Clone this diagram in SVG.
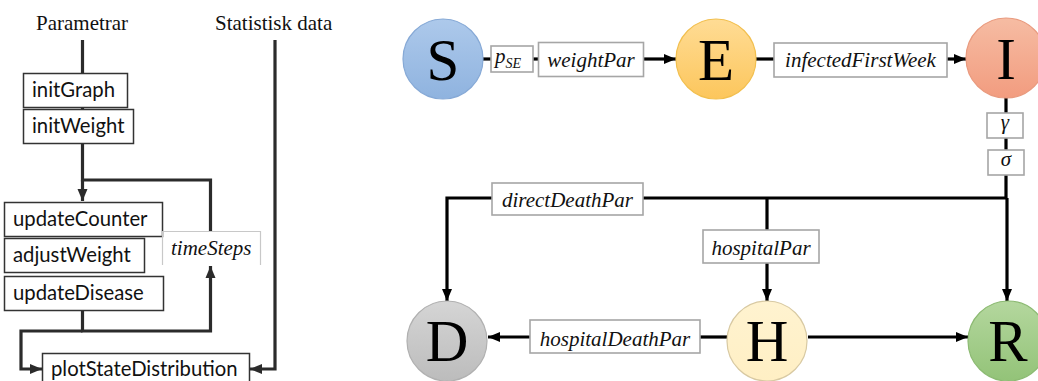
<svg xmlns="http://www.w3.org/2000/svg" width="1038" height="381" viewBox="0 0 1038 381">
<style>
.ln{fill:none;stroke:#2b2b2b;stroke-width:3.2}
.lk{fill:none;stroke:#000;stroke-width:3.2}
.fb{fill:#fff;stroke:#333;stroke-width:1.5}
.pb{fill:#fff;stroke:#a6a6a6;stroke-width:1.6}
.ft{font-family:Lato,"Open Sans",sans-serif;font-size:20.3px;fill:#111}
.st{font-family:"Liberation Serif",serif;font-size:21px;fill:#111}
.it{font-family:"Liberation Serif",serif;font-style:italic;font-size:21px;fill:#111}
.big{font-family:"Liberation Serif",serif;font-size:59px;fill:#000;text-anchor:middle}
</style>
<defs>
<marker id="ah" markerUnits="userSpaceOnUse" markerWidth="13" markerHeight="13" viewBox="0 0 13 13" refX="12" refY="6.5" orient="auto"><path d="M0,1.5 L12,6.5 L0,11.5 Z" fill="#000"/></marker>
<marker id="ahg" markerUnits="userSpaceOnUse" markerWidth="13" markerHeight="13" viewBox="0 0 13 13" refX="12" refY="6.5" orient="auto"><path d="M0,1.5 L12,6.5 L0,11.5 Z" fill="#2b2b2b"/></marker>
<linearGradient id="gS" x1="0" y1="0" x2="0" y2="1"><stop offset="0" stop-color="#adc9eb"/><stop offset="1" stop-color="#8fb3df"/></linearGradient>
<linearGradient id="gE" x1="0" y1="0" x2="0" y2="1"><stop offset="0" stop-color="#ffdc95"/><stop offset="1" stop-color="#fcc65c"/></linearGradient>
<linearGradient id="gI" x1="0" y1="0" x2="0" y2="1"><stop offset="0" stop-color="#f6bca3"/><stop offset="1" stop-color="#f29c7f"/></linearGradient>
<linearGradient id="gD" x1="0" y1="0" x2="0" y2="1"><stop offset="0" stop-color="#d5d5d5"/><stop offset="1" stop-color="#bcbcbc"/></linearGradient>
<linearGradient id="gH" x1="0" y1="0" x2="0" y2="1"><stop offset="0" stop-color="#fff3d0"/><stop offset="1" stop-color="#ffefc4"/></linearGradient>
<linearGradient id="gR" x1="0" y1="0" x2="0" y2="1"><stop offset="0" stop-color="#b4d79e"/><stop offset="1" stop-color="#93c378"/></linearGradient>
</defs>

<g id="connectors">
<path class="ln" d="M82.5,40 V73"/>
<path class="ln" d="M82.5,107 V109"/>
<path class="ln" d="M82.5,143 V180 H210.5 V231"/>
<path class="ln" d="M82.5,180 V201" marker-end="url(#ahg)"/>
<path class="ln" d="M82.5,310 V331 H210.5 V266" marker-end="url(#ahg)"/>
<path class="ln" d="M82.5,331 H21 V369 H42" marker-end="url(#ahg)"/>
<path class="ln" d="M275,40 V369 H250" marker-end="url(#ahg)"/>
<path class="lk" d="M483,59 H491"/>
<path class="lk" d="M533,59 H538"/>
<path class="lk" d="M644,59 H676" marker-end="url(#ah)"/>
<path class="lk" d="M756,59 H774"/>
<path class="lk" d="M947,59 H966" marker-end="url(#ah)"/>
<path class="lk" d="M1006,97 V198 H447 V301" marker-end="url(#ah)"/>
<path class="lk" d="M767,198 V301" marker-end="url(#ah)"/>
<path class="lk" d="M1007,198 V301" marker-end="url(#ah)"/>
<path class="lk" d="M727,337 H700"/>
<path class="lk" d="M530,337 H488" marker-end="url(#ah)"/>
<path class="lk" d="M808,337 H968" marker-end="url(#ah)"/>
</g>

<g id="label-parametrar"><text class="st" x="36" y="30">Parametrar</text></g>
<g id="label-statistisk"><text class="st" x="215" y="30">Statistisk data</text></g>

<g id="initGraph"><rect class="fb" x="23.5" y="73.5" width="104" height="34"/><text class="ft" x="32" y="96.5">initGraph</text></g>
<g id="initWeight"><rect class="fb" x="23.5" y="109.5" width="110" height="34"/><text class="ft" x="32" y="132.5">initWeight</text></g>
<g id="updateCounter"><rect class="fb" x="4.5" y="202.5" width="158" height="34"/><text class="ft" x="13" y="226">updateCounter</text></g>
<g id="adjustWeight"><rect class="fb" x="4.5" y="238.5" width="140" height="34"/><text class="ft" x="13" y="262">adjustWeight</text></g>
<g id="updateDisease"><rect class="fb" x="4.5" y="276.5" width="159" height="34"/><text class="ft" x="13" y="300">updateDisease</text></g>
<g id="timeSteps"><path d="M162.5,265 V231.5 H260.5 V265" fill="none" stroke="#c8c8c8" stroke-width="1.2"/><text class="it" x="171" y="255">timeSteps</text></g>
<g id="plotStateDistribution"><rect class="fb" x="42.5" y="353.5" width="207" height="34"/><text class="ft" x="51" y="375.5">plotStateDistribution</text></g>

<g id="S"><circle cx="443" cy="59" r="40" fill="url(#gS)" stroke="#86a9d6" stroke-width="1.2"/><text class="big" x="443" y="80">S</text></g>
<g id="E"><circle cx="716" cy="59" r="40" fill="url(#gE)" stroke="#f2bf4e" stroke-width="1.2"/><text class="big" x="716" y="80">E</text></g>
<g id="I"><circle cx="1006" cy="58" r="40" fill="url(#gI)" stroke="#e99a7e" stroke-width="1.2"/><text class="big" x="1006" y="79">I</text></g>
<g id="D"><circle cx="447" cy="341" r="40" fill="url(#gD)" stroke="#b0b0b0" stroke-width="1.2"/><text class="big" x="447" y="361">D</text></g>
<g id="H"><circle cx="767" cy="341" r="40" fill="url(#gH)" stroke="#d8c9a2" stroke-width="1.2"/><text class="big" x="767" y="361">H</text></g>
<g id="R"><circle cx="1008" cy="341" r="40" fill="url(#gR)" stroke="#8cba72" stroke-width="1.2"/><text class="big" x="1008" y="361">R</text></g>

<g id="pSE"><rect class="pb" x="491" y="46" width="42" height="26"/><text class="it" x="495" y="63" font-size="25">p<tspan font-size="14" dy="5">SE</tspan></text></g>
<g id="weightPar"><rect class="pb" x="538.5" y="42.5" width="105" height="34"/><text class="it" x="591" y="67" text-anchor="middle">weightPar</text></g>
<g id="infectedFirstWeek"><rect class="pb" x="774" y="43" width="173" height="34"/><text class="it" x="860.5" y="67" text-anchor="middle">infectedFirstWeek</text></g>
<g id="gamma"><rect class="pb" x="987" y="113" width="36" height="25"/><text class="it" x="1005" y="129" text-anchor="middle">γ</text></g>
<g id="sigma"><rect class="pb" x="988" y="150" width="36" height="25"/><text class="it" x="1006" y="166" text-anchor="middle">σ</text></g>
<g id="directDeathPar"><rect class="pb" x="492" y="183" width="151" height="32"/><text class="it" x="567.5" y="206.5" text-anchor="middle">directDeathPar</text></g>
<g id="hospitalPar"><rect class="pb" x="703" y="230" width="116" height="33"/><text class="it" x="761" y="255" text-anchor="middle">hospitalPar</text></g>
<g id="hospitalDeathPar"><rect class="pb" x="530" y="320" width="170" height="33"/><text class="it" x="615" y="346" text-anchor="middle">hospitalDeathPar</text></g>
</svg>
